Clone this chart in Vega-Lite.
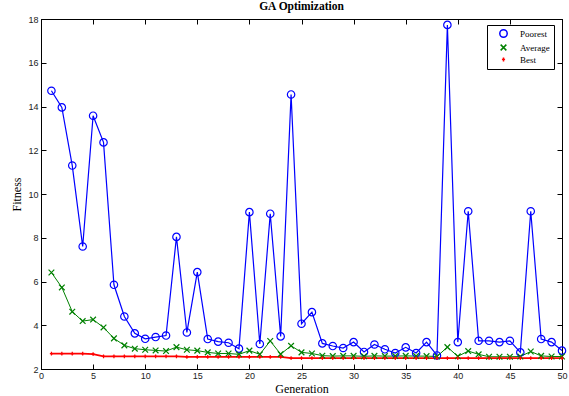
{
  "$schema": "https://vega.github.io/schema/vega-lite/v6.json",
  "autosize": "none",
  "width": 521,
  "height": 350,
  "padding": {"left": 41, "top": 19, "right": 7, "bottom": 27},
  "background": "white",
  "title": {"text": "GA Optimization", "font": "Liberation Serif", "fontSize": 11.5, "fontWeight": "bold", "color": "black", "offset": 3, "anchor": "middle"},
  "config": {"view": {"stroke": "black", "strokeWidth": 1}},
  "datasets": {
    "fit": [
      {"gen":1,"series":"Poorest","value":14.72},{"gen":2,"series":"Poorest","value":13.96},{"gen":3,"series":"Poorest","value":11.3},{"gen":4,"series":"Poorest","value":7.6},{"gen":5,"series":"Poorest","value":13.58},
      {"gen":6,"series":"Poorest","value":12.36},{"gen":7,"series":"Poorest","value":5.85},{"gen":8,"series":"Poorest","value":4.4},{"gen":9,"series":"Poorest","value":3.63},{"gen":10,"series":"Poorest","value":3.38},
      {"gen":11,"series":"Poorest","value":3.46},{"gen":12,"series":"Poorest","value":3.53},{"gen":13,"series":"Poorest","value":8.04},{"gen":14,"series":"Poorest","value":3.67},{"gen":15,"series":"Poorest","value":6.43},
      {"gen":16,"series":"Poorest","value":3.37},{"gen":17,"series":"Poorest","value":3.25},{"gen":18,"series":"Poorest","value":3.2},{"gen":19,"series":"Poorest","value":2.93},{"gen":20,"series":"Poorest","value":9.17},
      {"gen":21,"series":"Poorest","value":3.14},{"gen":22,"series":"Poorest","value":9.1},{"gen":23,"series":"Poorest","value":3.49},{"gen":24,"series":"Poorest","value":14.55},{"gen":25,"series":"Poorest","value":4.07},
      {"gen":26,"series":"Poorest","value":4.6},{"gen":27,"series":"Poorest","value":3.17},{"gen":28,"series":"Poorest","value":3.05},{"gen":29,"series":"Poorest","value":2.96},{"gen":30,"series":"Poorest","value":3.23},
      {"gen":31,"series":"Poorest","value":2.78},{"gen":32,"series":"Poorest","value":3.12},{"gen":33,"series":"Poorest","value":2.9},{"gen":34,"series":"Poorest","value":2.73},{"gen":35,"series":"Poorest","value":2.99},
      {"gen":36,"series":"Poorest","value":2.73},{"gen":37,"series":"Poorest","value":3.23},{"gen":38,"series":"Poorest","value":2.62},{"gen":39,"series":"Poorest","value":17.73},{"gen":40,"series":"Poorest","value":3.23},
      {"gen":41,"series":"Poorest","value":9.21},{"gen":42,"series":"Poorest","value":3.29},{"gen":43,"series":"Poorest","value":3.29},{"gen":44,"series":"Poorest","value":3.23},{"gen":45,"series":"Poorest","value":3.29},
      {"gen":46,"series":"Poorest","value":2.76},{"gen":47,"series":"Poorest","value":9.21},{"gen":48,"series":"Poorest","value":3.37},{"gen":49,"series":"Poorest","value":3.23},{"gen":50,"series":"Poorest","value":2.84},

      {"gen":1,"series":"Average","value":6.41},{"gen":2,"series":"Average","value":5.73},{"gen":3,"series":"Average","value":4.62},{"gen":4,"series":"Average","value":4.19},{"gen":5,"series":"Average","value":4.26},
      {"gen":6,"series":"Average","value":3.9},{"gen":7,"series":"Average","value":3.4},{"gen":8,"series":"Average","value":3.08},{"gen":9,"series":"Average","value":2.93},{"gen":10,"series":"Average","value":2.88},
      {"gen":11,"series":"Average","value":2.85},{"gen":12,"series":"Average","value":2.82},{"gen":13,"series":"Average","value":3.0},{"gen":14,"series":"Average","value":2.88},{"gen":15,"series":"Average","value":2.84},
      {"gen":16,"series":"Average","value":2.76},{"gen":17,"series":"Average","value":2.71},{"gen":18,"series":"Average","value":2.71},{"gen":19,"series":"Average","value":2.67},{"gen":20,"series":"Average","value":2.84},
      {"gen":21,"series":"Average","value":2.67},{"gen":22,"series":"Average","value":3.28},{"gen":23,"series":"Average","value":2.68},{"gen":24,"series":"Average","value":3.06},{"gen":25,"series":"Average","value":2.76},
      {"gen":26,"series":"Average","value":2.71},{"gen":27,"series":"Average","value":2.61},{"gen":28,"series":"Average","value":2.59},{"gen":29,"series":"Average","value":2.6},{"gen":30,"series":"Average","value":2.6},
      {"gen":31,"series":"Average","value":2.58},{"gen":32,"series":"Average","value":2.6},{"gen":33,"series":"Average","value":2.59},{"gen":34,"series":"Average","value":2.59},{"gen":35,"series":"Average","value":2.6},
      {"gen":36,"series":"Average","value":2.59},{"gen":37,"series":"Average","value":2.59},{"gen":38,"series":"Average","value":2.57},{"gen":39,"series":"Average","value":3.0},{"gen":40,"series":"Average","value":2.58},
      {"gen":41,"series":"Average","value":2.82},{"gen":42,"series":"Average","value":2.67},{"gen":43,"series":"Average","value":2.56},{"gen":44,"series":"Average","value":2.56},{"gen":45,"series":"Average","value":2.56},
      {"gen":46,"series":"Average","value":2.57},{"gen":47,"series":"Average","value":2.8},{"gen":48,"series":"Average","value":2.6},{"gen":49,"series":"Average","value":2.57},{"gen":50,"series":"Average","value":2.57},

      {"gen":1,"series":"Best","value":2.7},{"gen":2,"series":"Best","value":2.7},{"gen":3,"series":"Best","value":2.7},{"gen":4,"series":"Best","value":2.7},{"gen":5,"series":"Best","value":2.68},
      {"gen":6,"series":"Best","value":2.58},{"gen":7,"series":"Best","value":2.58},{"gen":8,"series":"Best","value":2.58},{"gen":9,"series":"Best","value":2.58},{"gen":10,"series":"Best","value":2.58},
      {"gen":11,"series":"Best","value":2.58},{"gen":12,"series":"Best","value":2.58},{"gen":13,"series":"Best","value":2.58},{"gen":14,"series":"Best","value":2.55},{"gen":15,"series":"Best","value":2.55},
      {"gen":16,"series":"Best","value":2.55},{"gen":17,"series":"Best","value":2.55},{"gen":18,"series":"Best","value":2.55},{"gen":19,"series":"Best","value":2.55},{"gen":20,"series":"Best","value":2.55},
      {"gen":21,"series":"Best","value":2.55},{"gen":22,"series":"Best","value":2.55},{"gen":23,"series":"Best","value":2.55},{"gen":24,"series":"Best","value":2.5},{"gen":25,"series":"Best","value":2.5},
      {"gen":26,"series":"Best","value":2.5},{"gen":27,"series":"Best","value":2.5},{"gen":28,"series":"Best","value":2.5},{"gen":29,"series":"Best","value":2.5},{"gen":30,"series":"Best","value":2.5},
      {"gen":31,"series":"Best","value":2.5},{"gen":32,"series":"Best","value":2.5},{"gen":33,"series":"Best","value":2.5},{"gen":34,"series":"Best","value":2.5},{"gen":35,"series":"Best","value":2.5},
      {"gen":36,"series":"Best","value":2.5},{"gen":37,"series":"Best","value":2.5},{"gen":38,"series":"Best","value":2.5},{"gen":39,"series":"Best","value":2.5},{"gen":40,"series":"Best","value":2.5},
      {"gen":41,"series":"Best","value":2.5},{"gen":42,"series":"Best","value":2.5},{"gen":43,"series":"Best","value":2.5},{"gen":44,"series":"Best","value":2.5},{"gen":45,"series":"Best","value":2.5},
      {"gen":46,"series":"Best","value":2.5},{"gen":47,"series":"Best","value":2.5},{"gen":48,"series":"Best","value":2.5},{"gen":49,"series":"Best","value":2.5},{"gen":50,"series":"Best","value":2.5}
    ]
  },
  "data": {"name": "fit"},
  "resolve": {"axis": {"x": "independent", "y": "independent"}},
  "layer": [
    {
      "transform": [{"filter": "datum.series === 'Poorest'"}],
      "mark": {"type": "line", "clip": true, "color": "#0000ff", "strokeWidth": 1.2},
      "encoding": {
        "x": {"field": "gen", "type": "quantitative", "scale": {"domain": [0, 50], "nice": false},
              "axis": {"title": "Generation", "titleFont": "Liberation Serif", "titleFontSize": 12, "titleFontWeight": "normal", "titleColor": "black", "titlePadding": 3,
                       "values": [0,5,10,15,20,25,30,35,40,45,50], "labelFont": "Liberation Sans", "labelFontSize": 9, "labelColor": "#222", "labelPadding": 7,
                       "tickSize": -5, "tickColor": "black", "domainColor": "black", "grid": false, "labelFlush": false}},
        "y": {"field": "value", "type": "quantitative", "scale": {"domain": [2, 18], "nice": false, "zero": false},
              "axis": {"title": "Fitness", "titleFont": "Liberation Serif", "titleFontSize": 12, "titleFontWeight": "normal", "titleColor": "black", "titlePadding": 4,
                       "values": [2,4,6,8,10,12,14,16,18], "labelFont": "Liberation Sans", "labelFontSize": 9, "labelColor": "#222", "labelPadding": 8,
                       "tickSize": -5, "tickColor": "black", "domainColor": "black", "grid": false}}
      }
    },
    {
      "transform": [{"filter": "datum.series === 'Average'"}],
      "mark": {"type": "line", "clip": true, "color": "#008000", "strokeWidth": 1},
      "encoding": {
        "x": {"field": "gen", "type": "quantitative", "axis": null},
        "y": {"field": "value", "type": "quantitative", "axis": null}
      }
    },
    {
      "transform": [{"filter": "datum.series === 'Best'"}],
      "mark": {"type": "line", "clip": true, "color": "#ff0000", "strokeWidth": 1.8},
      "encoding": {
        "x": {"field": "gen", "type": "quantitative", "axis": null},
        "y": {"field": "value", "type": "quantitative", "axis": null}
      }
    },
    {
      "mark": {"type": "point", "filled": false, "strokeWidth": 1.2, "opacity": 1},
      "encoding": {
        "x": {"field": "gen", "type": "quantitative", "scale": {"domain": [0, 50], "nice": false},
              "axis": {"orient": "top", "title": null, "labels": false, "values": [0,5,10,15,20,25,30,35,40,45,50], "tickSize": -5, "tickColor": "black", "domainColor": "black", "grid": false}},
        "y": {"field": "value", "type": "quantitative", "scale": {"domain": [2, 18], "nice": false, "zero": false},
              "axis": {"orient": "right", "title": null, "labels": false, "values": [2,4,6,8,10,12,14,16,18], "tickSize": -5, "tickColor": "black", "domainColor": "black", "grid": false}},
        "color": {"field": "series", "type": "nominal", "scale": {"domain": ["Poorest", "Average", "Best"], "range": ["#0000ff", "#008000", "#ff0000"]},
                  "legend": {"title": null, "orient": "none", "legendX": 446, "legendY": 6, "strokeColor": "black", "fillColor": "white", "padding": 4,
                             "labelFont": "Liberation Serif", "labelFontSize": 9, "labelColor": "black", "rowPadding": 0, "symbolStrokeWidth": 1.5, "labelOffset": 12, "symbolOffset": 8,
                             "encode": {"symbols": {"update": {"size": {"value": 20}}}}}},
        "shape": {"field": "series", "type": "nominal", "scale": {"domain": ["Poorest", "Average", "Best"], "range": ["circle", "M-1,-1L1,1M-1,1L1,-1", "M-1,0L1,0M0,-1.2L0,1.2M-0.5,-0.5L0.5,0.5M-0.5,0.5L0.5,-0.5"]}},
        "size": {"field": "series", "type": "nominal", "scale": {"domain": ["Poorest", "Average", "Best"], "range": [55, 10, 50]}}
      }
    }
  ]
}
